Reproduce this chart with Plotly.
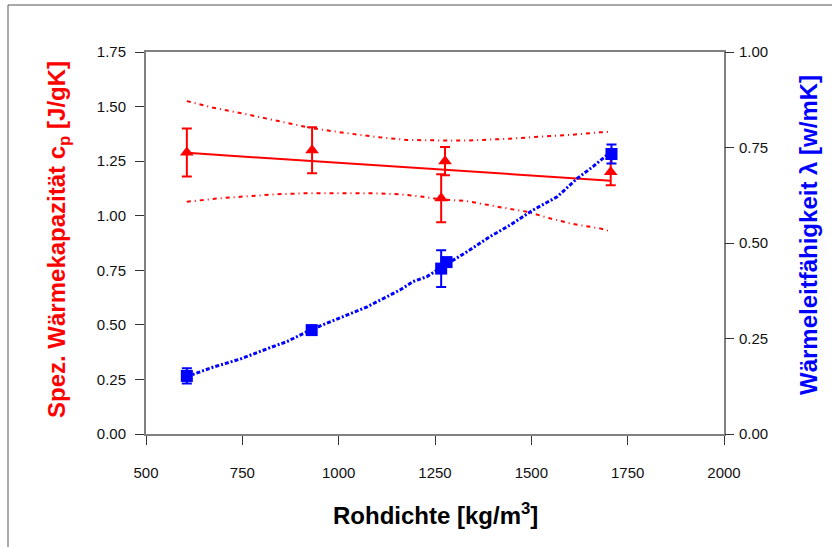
import numpy as np
import plotly.graph_objects as go

# Specific heat capacity c_p (left axis)
cp_density = [606, 931, 1276, 1266, 1706]
cp_values = [1.29, 1.30, 1.25, 1.08, 1.20]
cp_errors = [0.11, 0.105, 0.065, 0.11, 0.06]

# 95 % confidence band of the linear fit (upper / lower)
band_up_x = [606, 669, 744, 804, 856, 933, 1022, 1107, 1177, 1245, 1297, 1333,
             1445, 1548, 1608, 1678, 1706]
band_up_y = [1.525, 1.497, 1.471, 1.448, 1.426, 1.400, 1.378, 1.359, 1.347, 1.344,
             1.344, 1.344, 1.353, 1.365, 1.371, 1.382, 1.385]
band_lo_x = [606, 692, 770, 848, 918, 1003, 1089, 1159, 1219, 1263, 1333, 1419,
             1489, 1548, 1608, 1678, 1706]
band_lo_y = [1.064, 1.080, 1.090, 1.099, 1.103, 1.103, 1.103, 1.098, 1.087, 1.075,
             1.067, 1.039, 1.018, 0.988, 0.962, 0.942, 0.928]

# Thermal conductivity lambda (right axis)
lam_density = [606, 930, 1266, 1280, 1708]
lam_values = [0.152, 0.272, 0.433, 0.450, 0.733]
lam_errors = [0.02, 0.01, 0.048, 0.0, 0.025]

# Smoothed conductivity curve
lam_curve_x = [606, 622, 674, 744, 814, 866, 926, 1003, 1074, 1159, 1193, 1229,
               1263, 1333, 1393, 1445, 1504, 1567, 1619, 1660, 1696, 1708]
lam_curve_y = [0.152, 0.156, 0.175, 0.196, 0.223, 0.242, 0.272, 0.303, 0.333, 0.377,
               0.399, 0.412, 0.434, 0.477, 0.517, 0.547, 0.586, 0.621, 0.669, 0.700,
               0.730, 0.733]

x_ticks = [500, 750, 1000, 1250, 1500, 1750, 2000]
y_ticks = [0, 0.25, 0.5, 0.75, 1.0, 1.25, 1.5, 1.75]
y2_ticks = [0, 0.25, 0.5, 0.75, 1.0]

RED = "#ff0000"
BLUE = "#0000ff"
FONT = "Liberation Sans, Arial, sans-serif"

# Linear regression of c_p over density
slope, intercept = np.polyfit(cp_density, cp_values, 1)
fit_x = [min(cp_density), max(cp_density)]
fit_y = [slope * v + intercept for v in fit_x]

fig = go.Figure()

fig.add_trace(go.Scatter(x=band_up_x, y=band_up_y, mode="lines",
                         line=dict(color=RED, width=2, dash="4px,4px,1px,4px"),
                         hoverinfo="skip", showlegend=False))
fig.add_trace(go.Scatter(x=band_lo_x, y=band_lo_y, mode="lines",
                         line=dict(color=RED, width=2, dash="4px,4px,1px,4px"),
                         hoverinfo="skip", showlegend=False))
fig.add_trace(go.Scatter(x=fit_x, y=fit_y, mode="lines",
                         line=dict(color=RED, width=2), showlegend=False))

fig.add_trace(go.Scatter(x=lam_curve_x, y=lam_curve_y, mode="lines", yaxis="y2",
                         line=dict(color=BLUE, width=3, dash="4px,2px,2px,2px"),
                         showlegend=False))

fig.add_trace(go.Scatter(x=cp_density, y=cp_values, mode="markers",
                         marker=dict(symbol="triangle-up", size=12, color=RED),
                         error_y=dict(type="data", array=cp_errors, color=RED,
                                      thickness=2, width=5),
                         showlegend=False))
fig.add_trace(go.Scatter(x=lam_density, y=lam_values, mode="markers", yaxis="y2",
                         marker=dict(symbol="square", size=12, color=BLUE),
                         error_y=dict(type="data", array=lam_errors, color=BLUE,
                                      thickness=2, width=5),
                         showlegend=False))

axis_common = dict(showgrid=False, zeroline=False, ticks="outside", ticklen=9,
                   tickwidth=1, tickcolor="#333333",
                   tickfont=dict(family=FONT, size=15, color="#111111"))

fig.update_layout(
    width=832, height=547,
    margin=dict(l=146, r=108, t=52, b=113),
    paper_bgcolor="white", plot_bgcolor="white",
    xaxis=dict(range=[500, 2000], tickvals=x_ticks, showline=True, linecolor="#808080",
               linewidth=2, mirror=True, ticklabelstandoff=15, **axis_common),
    yaxis=dict(range=[0, 1.75], tickvals=y_ticks, tickformat=".2f", showline=True,
               linecolor="#808080", linewidth=2, mirror=True, ticklabelstandoff=6,
               **axis_common),
    yaxis2=dict(range=[0, 1.0], tickvals=y2_ticks, tickformat=".2f", overlaying="y",
                side="right", showline=False, ticklabelstandoff=2, **axis_common),
    font=dict(family=FONT),
    shapes=[dict(type="rect", xref="paper", yref="paper",
                 x0=(8 - 146) / 578, x1=1.3, y0=-0.4, y1=(434 - 5) / 382,
                 line=dict(color="#555555", width=1), layer="below")],
    annotations=[
        dict(text="<b>Rohdichte [kg/m<sup>3</sup>]</b>", xref="paper", yref="paper",
             x=0.5, y=(434 - 514) / 382, showarrow=False, xanchor="center",
             yanchor="middle", font=dict(family=FONT, size=24, color="black")),
        dict(text="<b>Spez. Wärmekapazität c<sub>p</sub> [J/gK]</b>", xref="paper",
             yref="paper", x=(58 - 146) / 578, y=(434 - 240) / 382, showarrow=False,
             textangle=-90, xanchor="center", yanchor="middle",
             font=dict(family=FONT, size=24, color=RED)),
        dict(text="<b>Wärmeleitfähigkeit λ [w/mK]</b>", xref="paper", yref="paper",
             x=(808 - 146) / 578, y=(434 - 235) / 382, showarrow=False,
             textangle=-90, xanchor="center", yanchor="middle",
             font=dict(family=FONT, size=24, color=BLUE)),
    ],
)

fig.write_html("out.html")
